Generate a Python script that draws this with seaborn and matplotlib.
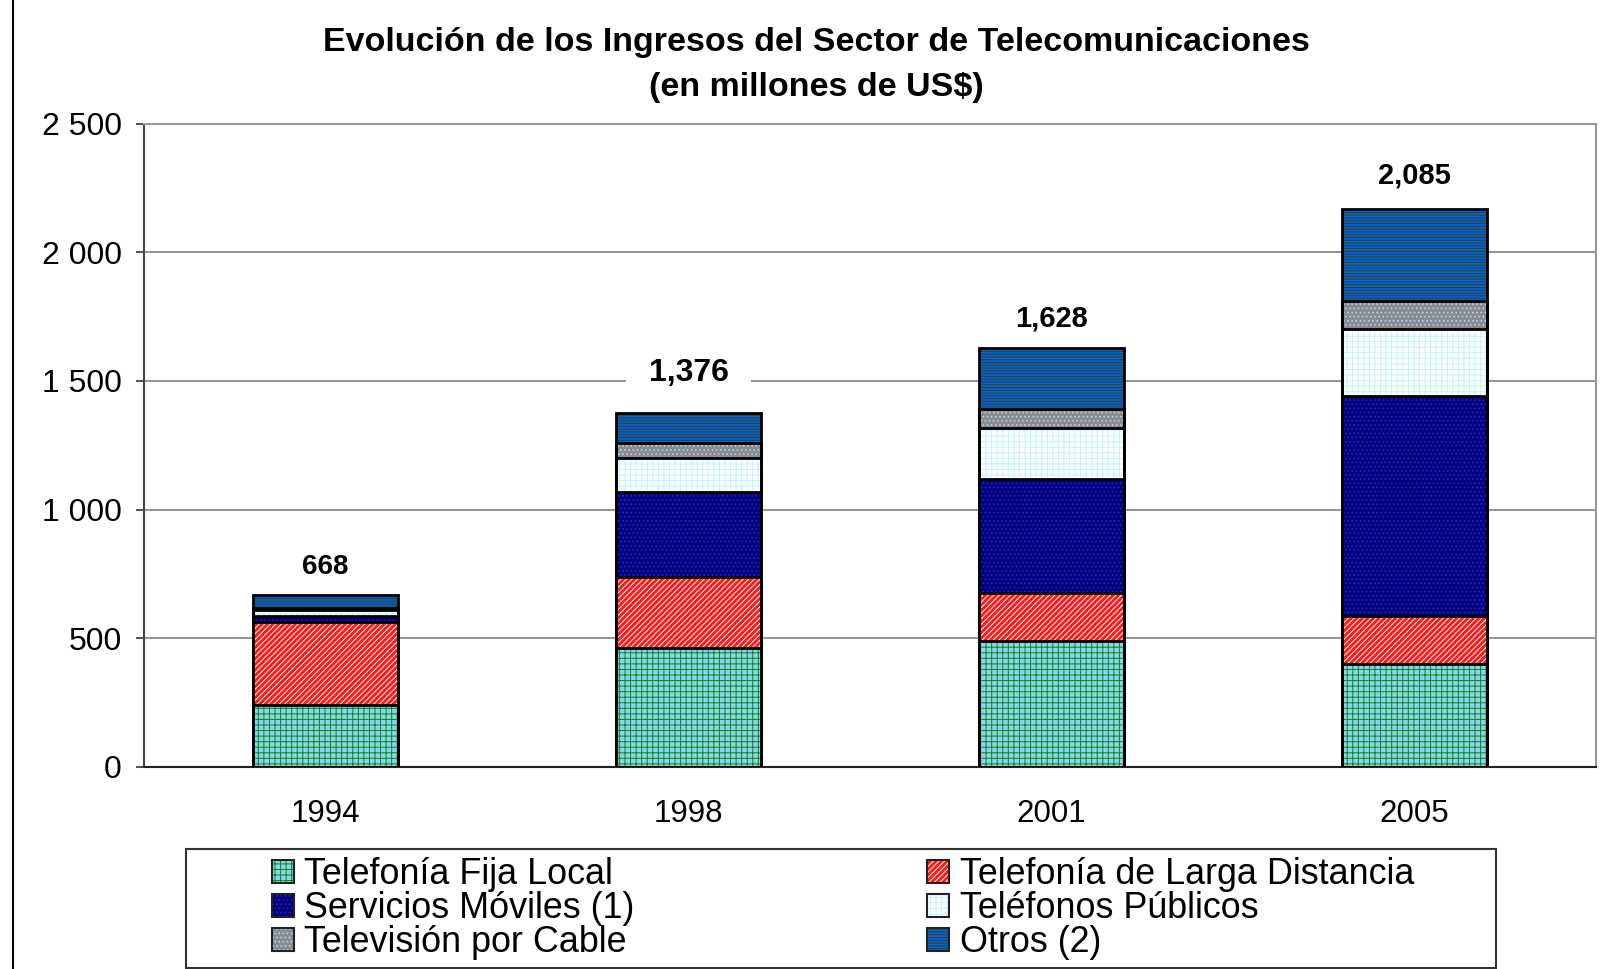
import numpy as np
import pandas as pd
import seaborn as sns
import matplotlib.pyplot as plt
from matplotlib.patches import Patch, Rectangle
from matplotlib.lines import Line2D

# Data (millones de US$)
years = ['1994', '1998', '2001', '2005']
fija_local = [240, 464, 488, 400]
larga_distancia = [325, 276, 188, 188]
moviles = [20, 328, 444, 852]
publicos = [25, 132, 196, 260]
cable = [8, 60, 76, 112]
otros = [50, 116, 236, 356]
total_labels = ['668', '1,376', '1,628', '2,085']

series_names = ['Telefonía Fija Local', 'Telefonía de Larga Distancia', 'Servicios Móviles (1)',
                'Teléfonos Públicos', 'Televisión por Cable', 'Otros (2)']
y_ticks = [0, 500, 1000, 1500, 2000, 2500]
y_ticklabels = ['0', '500', '1 000', '1 500', '2 000', '2 500']

# styles: face colour, hatch colour, hatch pattern
styles = [
    ('#8AD2F6', '#0A8A0A', '+++'),
    ('#FF1A1A', '#FFFFFF', '//////'),
    ('#000080', '#2A2AB0', '....'),
    ('#FFFFFF', '#BFF5FA', '+++'),
    ('#8C8C8C', '#A8D4FF', '....'),
    ('#0066CC', '#3A3A3A', '------'),
]

df = pd.DataFrame({'year': years, 'fija': fija_local, 'larga': larga_distancia, 'moviles': moviles,
                   'publicos': publicos, 'cable': cable, 'otros': otros})
cols = ['fija', 'larga', 'moviles', 'publicos', 'cable', 'otros']
cum = df[cols].cumsum(axis=1)

sns.set_theme(style='white')
plt.rcParams['font.family'] = ['Liberation Sans', 'DejaVu Sans']
plt.rcParams['hatch.linewidth'] = 0.7
plt.rcParams['text.color'] = 'black'
plt.rcParams['xtick.labelcolor'] = 'black'
plt.rcParams['ytick.labelcolor'] = 'black'

fig = plt.figure(figsize=(16.14, 9.69), dpi=100)
ax = fig.add_axes([0.0892, 0.2085, 0.8996, 0.664])

# stacked bars: draw cumulative tops from the highest down
for i in range(len(cols) - 1, -1, -1):
    face, hcol, hatch = styles[i]
    sns.barplot(x=df['year'], y=cum[cols[i]], color=face, saturation=1, width=0.4,
                hatch=hatch, edgecolor=hcol, linewidth=0, errorbar=None, ax=ax, zorder=3)
    sns.barplot(x=df['year'], y=cum[cols[i]], color='black', fill=False, width=0.4,
                linewidth=2, errorbar=None, ax=ax, zorder=4)

# totals above bars (white box hides the gridline, kept under the bars)
label_sizes = [20, 23, 21, 21]
label_offsets = [20, 29, 21, 24]
tops = cum[cols[-1]].values
for i, txt in enumerate(total_labels):
    ax.annotate(txt, xy=(i, tops[i]), xytext=(0, label_offsets[i]), textcoords='offset points',
                ha='center', va='center', fontsize=label_sizes[i], fontweight='bold', zorder=2.5,
                color='black', bbox=dict(facecolor='white', edgecolor='none', pad=16))

ax.set_xlim(-0.5, 3.5)
ax.set_ylim(0, 2500)
ax.set_yticks(y_ticks)
ax.set_yticklabels(y_ticklabels)
ax.set_xlabel('')
ax.set_ylabel('')
ax.yaxis.grid(True, color='#808080', linewidth=1.2, zorder=0)
ax.set_axisbelow(True)
ax.set_xticks([-0.5, 0.5, 1.5, 2.5, 3.5], minor=True)
ax.tick_params(axis='x', which='major', length=0, pad=23, labelsize=22.5, labelcolor='black')
ax.tick_params(axis='x', which='minor', length=6, width=1.2, color='#333333', direction='out')
ax.tick_params(axis='y', length=6, width=1.2, color='#333333', direction='out', pad=10,
               labelsize=23, left=True, labelcolor='black')
for side, c in [('left', '#444444'), ('bottom', '#222222'), ('right', '#999999'), ('top', '#999999')]:
    ax.spines[side].set_color(c)
    ax.spines[side].set_linewidth(1.5)

fig.text(0.5056, 0.933, 'Evolución de los Ingresos del Sector de Telecomunicaciones\n(en millones de US$)',
         ha='center', va='center', fontsize=24.5, fontweight='bold', linespacing=1.57, color='black')

# legend (row-wise order in two columns)
handles = []
for face, hcol, hatch in styles:
    handles.append((Patch(facecolor=face, edgecolor=hcol, hatch=hatch, linewidth=0),
                    Patch(facecolor='none', edgecolor='#222222', linewidth=1.5)))
order = [0, 2, 4, 1, 3, 5]
leg = fig.legend([handles[k] for k in order], [series_names[k] for k in order], ncol=2,
                 loc='upper left', bbox_to_anchor=(272 / 1614, 1 - 857 / 969), frameon=False,
                 fontsize=25.8, handlelength=0.6, handleheight=0.6, handletextpad=0.3,
                 labelspacing=-0.03, columnspacing=8.17, borderpad=0, borderaxespad=0)
for t in leg.get_texts():
    t.set_color('black')
fig.add_artist(Rectangle((186 / 1614, 1 - 968 / 969), (1496 - 186) / 1614, (968 - 849) / 969,
                         transform=fig.transFigure, fill=False, edgecolor='#333333', linewidth=1.5))
fig.add_artist(Line2D([13 / 1614, 13 / 1614], [0, 1], transform=fig.transFigure,
                      color='black', linewidth=1.5))

fig.savefig('out.png', dpi=100)
